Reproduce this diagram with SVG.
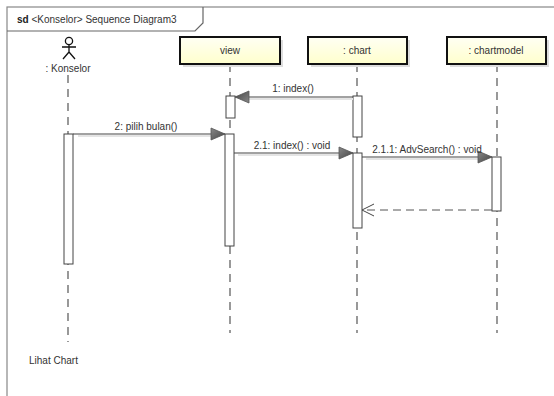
<svg xmlns="http://www.w3.org/2000/svg" width="554" height="396" viewBox="0 0 554 396">
<style>
text{font-family:"Liberation Sans",Arial,sans-serif;font-size:10px;fill:#333}
.box{fill:url(#yel);stroke:#111;stroke-width:2}
.shadow{fill:#ddd}
.life{stroke:#555;stroke-width:1.2;stroke-dasharray:8,6;fill:none}
.act{fill:#fff;stroke:#444;stroke-width:1}
.msg{stroke:#444;stroke-width:1;fill:none}
.msgsh{stroke:#e4e4e4;stroke-width:2;fill:none}
.ret{stroke:#555;stroke-width:1;stroke-dasharray:8,5;fill:none}
</style>
<defs>
<linearGradient id="yel" x1="0" y1="0" x2="0" y2="1">
<stop offset="0" stop-color="#fffff4"/><stop offset="1" stop-color="#ffffcc"/>
</linearGradient>
<linearGradient id="tri" x1="0" y1="0" x2="1" y2="1">
<stop offset="0" stop-color="#888"/><stop offset="1" stop-color="#444"/>
</linearGradient>
<marker id="filled" markerWidth="16" markerHeight="14" refX="15" refY="7" orient="auto" markerUnits="userSpaceOnUse">
<path d="M1,1 L15,7 L1,13 Z" fill="url(#tri)" stroke="#555" stroke-width="0.8"/>
</marker>
<marker id="open" markerWidth="14" markerHeight="14" refX="13" refY="7" orient="auto" markerUnits="userSpaceOnUse">
<path d="M1,1 L13,7 L1,13" fill="none" stroke="#444" stroke-width="1"/>
</marker>
</defs>
<rect width="554" height="396" fill="#fff"/>
<g id="frame">
<rect x="7" y="7" width="560" height="400" fill="none" stroke="#888" stroke-width="1.2"/>
<path d="M7,31 L195,31 L203,23 L203,7" fill="none" stroke="#666" stroke-width="1.2"/>
<text x="17" y="23"><tspan font-weight="bold" fill="#222">sd</tspan> &lt;Konselor&gt; Sequence Diagram3</text>
</g>
<g id="lifelines">
<line class="life" x1="68" y1="75" x2="68" y2="342"/>
<line class="life" x1="230" y1="64" x2="230" y2="333"/>
<line class="life" x1="357" y1="64" x2="357" y2="333"/>
<line class="life" x1="497" y1="64" x2="497" y2="333"/>
</g>
<g id="konselor">
<circle cx="69" cy="41" r="3.6" fill="#fff" stroke="#111" stroke-width="1.3"/>
<path d="M69,45 L69,52 M62,47 L76,47 M69,52 L63,59 M69,52 L75,59" fill="none" stroke="#111" stroke-width="1.3"/>
<text x="68" y="72" text-anchor="middle">: Konselor</text>
<rect class="act" x="64" y="134" width="9" height="130"/>
</g>
<g id="view">
<rect class="shadow" x="183" y="40" width="100" height="27"/>
<rect class="box" x="180" y="37" width="100" height="27"/>
<text x="230" y="54" text-anchor="middle">view</text>
<rect class="act" x="226" y="96" width="9" height="22"/>
<rect class="act" x="225" y="134" width="9" height="112"/>
</g>
<g id="chart">
<rect class="shadow" x="311" y="40" width="99" height="27"/>
<rect class="box" x="308" y="37" width="99" height="27"/>
<text x="357" y="54" text-anchor="middle">: chart</text>
<rect class="act" x="353" y="96" width="9" height="41"/>
<rect class="act" x="353" y="153" width="9" height="75"/>
</g>
<g id="chartmodel">
<rect class="shadow" x="450" y="40" width="99" height="27"/>
<rect class="box" x="447" y="37" width="99" height="27"/>
<text x="496" y="54" text-anchor="middle">: chartmodel</text>
<rect class="act" x="492" y="157" width="9" height="54"/>
</g>
<g id="connectors">
<line class="msgsh" x1="353" y1="99" x2="240" y2="99"/>
<line class="msg" x1="353" y1="97" x2="235" y2="97" marker-end="url(#filled)"/>
<text x="293" y="92" text-anchor="middle">1: index()</text>
<line class="msgsh" x1="78" y1="136" x2="220" y2="136"/>
<line class="msg" x1="73" y1="134" x2="225" y2="134" marker-end="url(#filled)"/>
<text x="146" y="130" text-anchor="middle">2: pilih bulan()</text>
<line class="msgsh" x1="238" y1="155" x2="348" y2="155"/>
<line class="msg" x1="234" y1="153" x2="353" y2="153" marker-end="url(#filled)"/>
<text x="292" y="149" text-anchor="middle">2.1: index() : void</text>
<line class="msgsh" x1="366" y1="159" x2="487" y2="159"/>
<line class="msg" x1="362" y1="157" x2="492" y2="157" marker-end="url(#filled)"/>
<text x="427" y="153" text-anchor="middle">2.1.1: AdvSearch() : void</text>
<line class="ret" x1="492" y1="210" x2="362" y2="210" marker-end="url(#open)"/>
</g>
<text x="29" y="364">Lihat Chart</text>
</svg>
